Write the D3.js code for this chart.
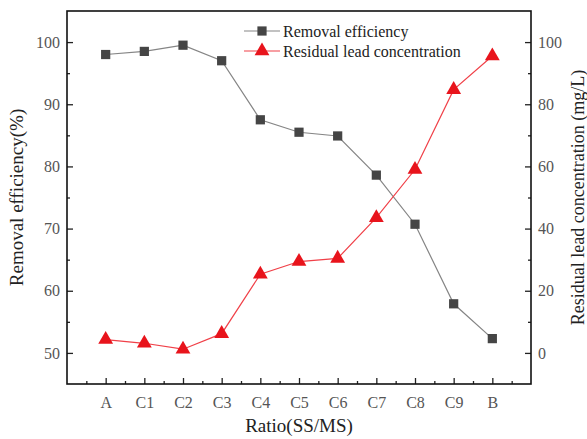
<!DOCTYPE html>
<html>
<head>
<meta charset="utf-8">
<script src="https://cdn.jsdelivr.net/npm/d3@7"></script>
<style>
  body { margin: 0; background: #fff; }
  text { font-family: "Liberation Serif", "Times New Roman", serif; }
</style>
</head>
<body>
<div id="chart"></div>
<script>
const categories = ["A", "C1", "C2", "C3", "C4", "C5", "C6", "C7", "C8", "C9", "B"];
const removalEfficiency = [98.0, 98.5, 99.5, 97.0, 87.5, 85.5, 84.9, 78.6, 70.7, 57.9, 52.3];
const residualLead = [4.3, 3.1, 1.2, 6.2, 25.3, 29.4, 30.4, 43.5, 59.0, 84.7, 95.5];
const leftTicks = [50, 60, 70, 80, 90, 100];
const rightTicks = [0, 20, 40, 60, 80, 100];

const width = 587, height = 439;
const margin = {top: 11, right: 56, bottom: 55, left: 67};
const innerW = width - margin.left - margin.right,
  innerH = height - margin.top - margin.bottom;

const svg = d3.select("#chart").append("svg")
  .attr("width", width)
  .attr("height", height);

const g = svg.append("g")
  .attr("transform", "translate(" + margin.left + "," + margin.top + ")");

// category index 1..11 on a 0..12 range
const x = d3.scaleLinear().domain([0, categories.length + 1]).range([0, innerW]);
const yL = d3.scaleLinear().domain([45, 105]).range([innerH, 0]);
const yR = d3.scaleLinear().domain([-10, 110]).range([innerH, 0]);

const tickColor = "#222", labelColor = "#555";

// bottom axis: major ticks at categories, minor in between (inward)
const xAxis = d3.axisBottom(x)
  .tickValues(d3.range(1, categories.length + 1))
  .tickSize(-6)
  .tickFormat(i => categories[i - 1]);
const xMinor = d3.axisBottom(x)
  .tickValues(d3.range(0.5, categories.length + 1, 1))
  .tickSize(-3)
  .tickFormat("");

const gx = g.append("g").attr("transform", "translate(0," + innerH + ")").call(xAxis);
g.append("g").attr("transform", "translate(0," + innerH + ")").call(xMinor);

const yLAxis = d3.axisLeft(yL).tickValues(leftTicks).tickSize(-6);
const yLMinor = d3.axisLeft(yL).tickValues([55, 65, 75, 85, 95]).tickSize(-3).tickFormat("");
const gyl = g.append("g").call(yLAxis);
g.append("g").call(yLMinor);

const yRAxis = d3.axisRight(yR).tickValues(rightTicks).tickSize(-6);
const yRMinor = d3.axisRight(yR).tickValues([10, 30, 50, 70, 90]).tickSize(-3).tickFormat("");
const gyr = g.append("g").attr("transform", "translate(" + innerW + ",0)").call(yRAxis);
g.append("g").attr("transform", "translate(" + innerW + ",0)").call(yRMinor);

g.selectAll(".domain").remove();
g.selectAll(".tick line").attr("stroke", tickColor).attr("stroke-width", 1.3);
g.selectAll(".tick text")
  .attr("fill", labelColor)
  .style("font-size", "16px")
  .style("font-family", "'Liberation Serif', serif");
gx.selectAll(".tick text").attr("dy", "1.3em");
gyl.selectAll(".tick text").attr("x", -7);
gyr.selectAll(".tick text").attr("x", 7);

// frame
g.append("rect")
  .attr("width", innerW)
  .attr("height", innerH)
  .attr("fill", "none")
  .attr("stroke", "#111")
  .attr("stroke-width", 1.6);

// lines
const lineL = d3.line().x((d, i) => x(i + 1)).y(d => yL(d));
const lineR = d3.line().x((d, i) => x(i + 1)).y(d => yR(d));

g.append("path")
  .datum(removalEfficiency)
  .attr("d", lineL)
  .attr("fill", "none")
  .attr("stroke", "#858585")
  .attr("stroke-width", 1.2);

g.append("path")
  .datum(residualLead)
  .attr("d", lineR)
  .attr("fill", "none")
  .attr("stroke", "#f04048")
  .attr("stroke-width", 1.2);

const square = d3.symbol().type(d3.symbolSquare).size(85);
const triangle = d3.symbol().type(d3.symbolTriangle).size(95);

g.selectAll(".sq")
  .data(removalEfficiency)
  .enter()
  .append("path")
  .attr("class", "sq")
  .attr("d", square)
  .attr("transform", (d, i) => "translate(" + x(i + 1) + "," + yL(d) + ")")
  .attr("fill", "#454545");

g.selectAll(".tri")
  .data(residualLead)
  .enter()
  .append("path")
  .attr("class", "tri")
  .attr("d", triangle)
  .attr("transform", (d, i) => "translate(" + x(i + 1) + "," + yR(d) + ")")
  .attr("fill", "#e8141c");

// legend
const legend = [
  {name: "Removal efficiency", color: "#858585", fill: "#454545", sym: square},
  {name: "Residual lead concentration", color: "#f04048", fill: "#e8141c", sym: triangle}
];
const lg = g.append("g").attr("transform", "translate(177,20)");
legend.forEach((d, i) => {
  const row = lg.append("g").attr("transform", "translate(0," + (i * 20) + ")");
  row.append("line").attr("x1", 0).attr("x2", 36).attr("stroke", d.color).attr("stroke-width", 1.2);
  row.append("path").attr("d", d.sym).attr("transform", "translate(18,0)").attr("fill", d.fill);
  row.append("text").attr("x", 39).attr("dy", "0.35em")
    .style("font-size", "16px").attr("fill", "#222").text(d.name);
});

// axis titles
svg.append("text")
  .attr("x", margin.left + innerW / 2)
  .attr("y", 432)
  .attr("text-anchor", "middle")
  .style("font-size", "19px")
  .attr("fill", "#222")
  .text("Ratio(SS/MS)");

svg.append("text")
  .attr("transform", "translate(23," + (margin.top + innerH / 2) + ") rotate(-90)")
  .attr("text-anchor", "middle")
  .style("font-size", "19px")
  .attr("fill", "#222")
  .text("Removal efficiency(%)");

svg.append("text")
  .attr("transform", "translate(584," + (margin.top + innerH / 2) + ") rotate(-90)")
  .attr("text-anchor", "middle")
  .style("font-size", "18px")
  .attr("fill", "#222")
  .text("Residual lead concentration (mg/L)");
</script>
</body>
</html>
